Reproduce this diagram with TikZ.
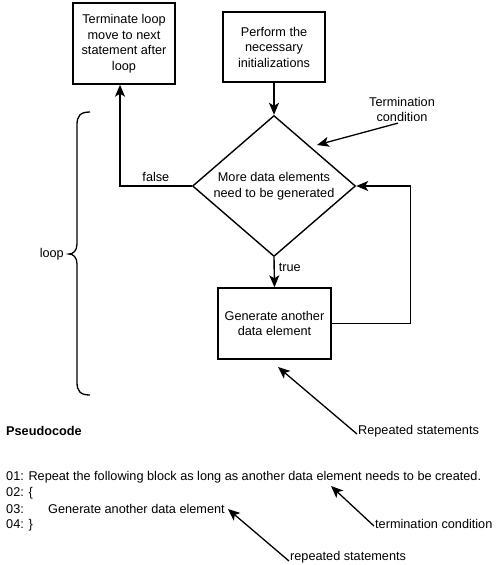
\documentclass[tikz,border=0pt]{standalone}
\usepackage{fontspec}
\setmainfont{Liberation Sans}
\usetikzlibrary{shapes.geometric,arrows.meta}

\begin{document}
\begin{tikzpicture}[x=1pt,y=-1pt,
    every node/.style={font=\fontsize{12.7}{15.5}\selectfont,inner sep=1pt},
    block/.style={draw,line width=1.4pt,align=center,inner sep=0pt},
    decision/.style={draw,line width=1.4pt,shape=diamond,align=center,inner sep=0pt,
        aspect=1.15,minimum width=163pt,minimum height=141pt},
    flow/.style={line width=1.4pt,-{Stealth[length=12pt,width=10pt,inset=3pt]}},
    note/.style={line width=1.3pt,-{Stealth[length=12pt,width=10pt,inset=3pt]}}]
    \useasboundingbox (0,0) rectangle (500,565);
    % flowchart
    \node[block,minimum width=102pt,minimum height=81pt] (exit) at (124,43.5)
        {Terminate loop\\move to next\\statement after\\loop};
    \node[block,minimum width=102pt,minimum height=70pt] (init) at (274,47)
        {Perform the\\necessary\\initializations};
    \node[decision] (cond) at (274,186) {More data elements\\need to be generated};
    \node[block,minimum width=113pt,minimum height=71pt] (gen) at (274.5,323.5)
        {Generate another\\data element};
    \draw[flow] (init) -- (cond);
    \draw[flow] (cond.west) -| node[pos=0.25,above=3pt] {false} ([xshift=-4pt]exit.south);
    \draw[flow] (cond.south) -- node[pos=0.35,right=3pt] {true} (gen.north);
    \draw[flow] (gen.east) -- ++(79,0) |- (cond.east);
    % notes
    \node[align=center] (termnote) at (402,109.5) {Termination\\condition};
    \coordinate (condtip) at (317,145);
    \draw[note] ([xshift=-4pt]termnote.south) -- (condtip);
    \node[anchor=west] (repnote) at (357,431) {Repeated statements};
    \coordinate (gentip) at (278,367);
    \draw[note] ([yshift=-3pt]repnote.west) -- (gentip);
    % loop brace
    \draw[line width=1.3pt] (90,112) .. controls (80,112) and (77,116) .. (77,125) -- (77,244)
        .. controls (77,251) and (73,254) .. (69,254) .. controls (73,254) and (77,257) .. (77,264)
        -- (77,382) .. controls (77,391) and (80,395) .. (90,395);
    \node[anchor=east] (looplbl) at (65,254) {loop};
    % pseudocode
    \node[anchor=west,font=\fontsize{12.7}{15.5}\selectfont\bfseries] (pstitle) at (5,431) {Pseudocode};
    \node[anchor=west] (line1) at (5,477)
        {01: Repeat the following block as long as another data element needs to be created.};
    \node[anchor=west] (line2) at (5,493) {02: \{};
    \node[anchor=west] (line3) at (5,509) {\makebox[42pt][l]{03:}Generate another data element};
    \node[anchor=west] (line4) at (5,525) {04: \}};
    \node[anchor=west] (termlbl) at (374,524) {termination condition};
    \coordinate (line1tip) at (331,486);
    \draw[note] ([yshift=-2pt]termlbl.west) -- (line1tip);
    \node[anchor=west] (replbl) at (289,557) {repeated statements};
    \draw[note] ([yshift=-4pt]replbl.west) -- ([xshift=2pt]line3.east);
\end{tikzpicture}
\end{document}
